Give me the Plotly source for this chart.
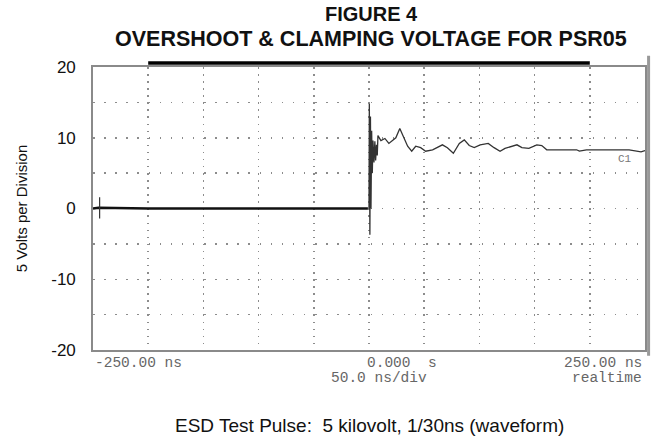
import plotly.graph_objects as go

# ---- data ----
pre_t = [-250, -245, -200, -150, -100, -50, -1]
pre_v = [0.0, 0.1, 0.0, 0.0, 0.0, 0.0, 0.0]

post_t = [0, 0.3, 0.8, 1.3, 1.8, 2.4, 3.0, 3.6, 4.5, 5.3, 6.0, 6.8, 7.5, 8.1,
          10.8, 14.4, 18.0, 21.6, 24.3, 27.9, 31.5, 35.0, 38.7, 42.3, 46.8,
          51.3, 57.6, 66.5, 71.0, 76.4, 81.8, 86.3, 90.8, 95.3, 100.7, 108.0,
          113.3, 118.7, 123.2, 129.5, 134.0, 138.5, 144.8, 152.0, 156.5, 161.0,
          188.0, 190.6, 197.0, 235.6, 246.4, 250.0]
post_v = [0.0, 14.8, -3.7, 13.0, 0.0, 11.0, 5.0, 9.6, 6.5, 9.5, 6.8, 9.0, 7.5, 10.3,
          9.6, 9.9, 9.2, 9.7, 10.0, 11.3, 10.0, 8.8, 8.1, 8.8, 8.6,
          8.1, 8.3, 9.0, 8.6, 7.8, 9.2, 9.7, 8.9, 8.6, 9.0, 9.2,
          8.6, 8.1, 8.5, 8.8, 9.0, 8.6, 8.5, 9.0, 8.9, 8.3,
          8.3, 8.1, 8.3, 8.3, 8.0, 8.2]

y_ticks = [-20, -10, 0, 10, 20]
y_tick_text = ["-20", "-10", "0", "10", "20"]
x_label_vals = [-250, 0, 250]
x_labels_row1 = ["-250.00 ns", "0.000  s", "250.00 ns"]
x_labels_row2 = ["", "50.0 ns/div", "realtime"]
x_label_anchor = ["left", "left", "right"]

title_lines = ["FIGURE 4", "OVERSHOOT & CLAMPING VOLTAGE FOR PSR05"]
y_title = "5 Volts per Division"
caption = "ESD Test Pulse:  5 kilovolt, 1/30ns (waveform)"
channel_label = "C1"

fig = go.Figure()
fig.add_trace(go.Scatter(x=pre_t, y=pre_v, mode="lines",
                         line=dict(color="#111111", width=2.6), hoverinfo="skip"))
fig.add_trace(go.Scatter(x=post_t, y=post_v, mode="lines",
                         line=dict(color="#333333", width=1.3), hoverinfo="skip"))

mono = "Liberation Mono"
lab_font = dict(family=mono, size=14.5, color="#666666")
anns = []
for xv, t1, t2, anc in zip(x_label_vals, x_labels_row1, x_labels_row2, x_label_anchor):
    anns.append(dict(x=xv, y=0, xref="x", yref="paper", text=t1, showarrow=False,
                     xanchor=anc, yanchor="top", yshift=-3,
                     xshift=(-4 if xv == 0 else (-1 if xv > 0 else 0)),
                     font=lab_font))
    if t2:
        anns.append(dict(x=xv, y=0, xref="x", yref="paper", text=t2, showarrow=False,
                         xanchor=anc, yanchor="top", yshift=-18,
                         xshift=(-40 if xv == 0 else -1),
                         font=lab_font))

anns.append(dict(x=0.5, y=1, xref="paper", yref="paper", yanchor="middle",
                 text="<b>" + title_lines[0] + "</b>", showarrow=False, yshift=53,
                 xshift=2, borderpad=0,
                 font=dict(family="Liberation Sans", size=20, color="#111")))
anns.append(dict(x=0.5, y=1, xref="paper", yref="paper", yanchor="middle",
                 text="<b>" + title_lines[1] + "</b>", showarrow=False, yshift=28,
                 xshift=2,
                 font=dict(family="Liberation Sans", size=21.5, color="#111")))
anns.append(dict(x=0.5, y=0, xref="paper", yref="paper", yanchor="middle",
                 text=caption, showarrow=False, yshift=-75, xshift=0,
                 font=dict(family="Liberation Sans", size=19, color="#111")))
anns.append(dict(x=post_t[-3], y=post_v[-3], xref="x", yref="y", text=channel_label,
                 showarrow=False, yshift=-9, xshift=-4,
                 font=dict(family=mono, size=11, color="#777")))

shapes = [
    # memory bar above the grid
    dict(type="line", xref="x", yref="paper", x0=-200, x1=200, y0=1.014, y1=1.014,
         line=dict(color="#000", width=3.5)),
    # scrollbar-like edge at right
    dict(type="line", xref="paper", yref="paper", x0=1.0065, x1=1.0065, y0=-0.02, y1=1.04,
         line=dict(color="#999", width=3)),
    # trigger marker at left
    dict(type="line", xref="x", yref="y", x0=-244, x1=-244, y0=-1.4, y1=1.6,
         line=dict(color="#333", width=1.2)),
]

dot_v = "1.5px,5.57px"
dot_h = "1.5px,9.6px"
gcol = "#8c8c8c"
fig.update_layout(
    width=652, height=439,
    margin=dict(l=93, r=5, t=67, b=89),
    paper_bgcolor="white", plot_bgcolor="white",
    showlegend=False,
    annotations=anns, shapes=shapes,
    xaxis=dict(range=[-250, 250], showticklabels=False, ticks="",
               dtick=50, tick0=0, showgrid=True, gridcolor=gcol, gridwidth=1.5,
               griddash=dot_v, zeroline=False,
               showline=True, linecolor="#8a8a8a", linewidth=1.8, mirror=True),
    yaxis=dict(range=[-20, 20], tickvals=y_ticks, ticktext=y_tick_text, ticks="",
               showgrid=True, gridcolor=gcol, gridwidth=1.5, griddash=dot_h,
               zeroline=False,
               minor=dict(dtick=5, showgrid=True, gridcolor=gcol, gridwidth=1.5,
                          griddash=dot_h),
               tickfont=dict(family="Liberation Sans", size=17, color="#111"),
               ticklabelstandoff=12,
               title=dict(text=y_title, standoff=20,
                          font=dict(family="Liberation Sans", size=15, color="#111")),
               showline=True, linecolor="#8a8a8a", linewidth=1.8, mirror=True),
)
fig.write_html("out.html", config={"displayModeBar": False, "staticPlot": True},
               post_script="document.body.style.margin='0';document.body.style.overflow='hidden';")
